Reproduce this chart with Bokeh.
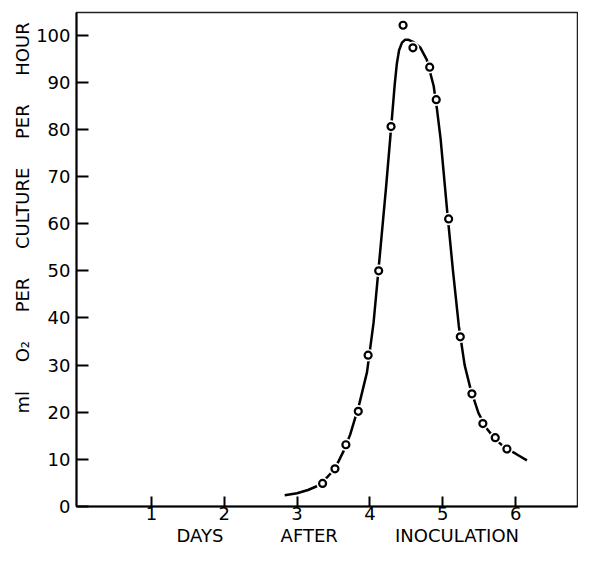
from bokeh.plotting import figure
from bokeh.models import FixedTicker, Title, ColumnDataSource
from bokeh.embed import file_html
from bokeh.resources import INLINE

# measured points (days after inoculation, ml O2 per culture per hour)
days_pts = [3.35, 3.52, 3.67, 3.84, 3.975, 4.12, 4.29, 4.455, 4.59, 4.82, 4.91,
            5.08, 5.24, 5.40, 5.55, 5.72, 5.88]
o2_pts = [4.9, 8.0, 13.1, 20.2, 32.1, 50.0, 80.6, 102.1, 97.3, 93.2, 86.3,
          61.0, 36.0, 23.9, 17.6, 14.6, 12.2]

# hand-drawn smooth curve
curve_days = [2.83, 3.00, 3.15, 3.27, 3.37, 3.46, 3.55, 3.64, 3.73, 3.85, 3.96,
              4.05, 4.14, 4.22, 4.30, 4.34, 4.37, 4.40, 4.44, 4.48, 4.53, 4.60,
              4.69, 4.78, 4.875, 4.92, 4.97, 5.06, 5.14, 5.22, 5.30, 5.38, 5.49,
              5.60, 5.72, 5.85, 6.00, 6.155]
curve_o2 = [2.4, 2.8, 3.5, 4.3, 5.5, 7.0, 9.0, 11.8, 15.3, 21.5, 28.5,
            39.0, 54.0, 67.5, 82.0, 89.5, 94.0, 96.8, 98.4, 99.0, 99.0, 98.5,
            97.4, 94.8, 89.2, 84.3, 78.0, 62.7, 50.0, 38.3, 30.0, 25.0, 19.8,
            16.6, 14.3, 12.5, 11.2, 9.8]

x_ticks = [1, 2, 3, 4, 5, 6]
y_ticks = [0, 10, 20, 30, 40, 50, 60, 70, 80, 90, 100]

GX = "\u00a0" * 10
GY = "\u00a0" * 5
x_title = "DAYS" + GX + "AFTER" + GX + "INOCULATION"
y_title = "ml" + GY + "O\u2082" + GY + "PER" + GY + "CULTURE" + GY + "PER" + GY + "HOUR"

FONT = "DejaVu Sans"

p = figure(width=578, height=545, x_range=(-0.0275, 6.849), y_range=(0, 104.8),
           output_backend="svg", toolbar_location=None,
           min_border_left=76, min_border_right=1, min_border_top=12,
           min_border_bottom=0)

p.background_fill_color = "white"
p.border_fill_color = "white"
p.outline_line_color = "#222222"
p.outline_line_width = 1.5
p.xgrid.grid_line_color = None
p.ygrid.grid_line_color = None

for ax in (p.xaxis[0], p.yaxis[0]):
    ax.axis_line_color = "black"
    ax.axis_line_width = 2
    ax.major_tick_line_color = "black"
    ax.major_tick_line_width = 2
    ax.major_tick_out = 0
    ax.minor_tick_line_color = None
    ax.major_label_text_font = FONT
    ax.major_label_text_font_size = "18px"
    ax.major_label_text_color = "black"

p.xaxis.ticker = FixedTicker(ticks=x_ticks)
p.yaxis.ticker = FixedTicker(ticks=y_ticks)
p.xaxis.major_tick_in = 10
p.yaxis.major_tick_in = 12
p.xaxis.major_label_standoff = 0
p.yaxis.major_label_standoff = 6

p.line(curve_days, curve_o2, line_color="black", line_width=2.5)

src = ColumnDataSource(dict(x=days_pts, y=o2_pts))
p.scatter("x", "y", source=src, marker="circle", size=12.5,
          fill_color="white", line_color=None)
p.scatter("x", "y", source=src, marker="circle", size=7,
          fill_color="white", line_color="black", line_width=2.2)

p.add_layout(Title(text=x_title, align="left", offset=100, standoff=0,
                   text_font=FONT, text_font_size="18px",
                   text_font_style="normal", text_color="black"), "below")
p.add_layout(Title(text=y_title, align="left", offset=93, standoff=2,
                   text_font=FONT, text_font_size="18px",
                   text_font_style="normal", text_color="black"), "left")

open("out.html", "w").write(file_html(p, INLINE))
